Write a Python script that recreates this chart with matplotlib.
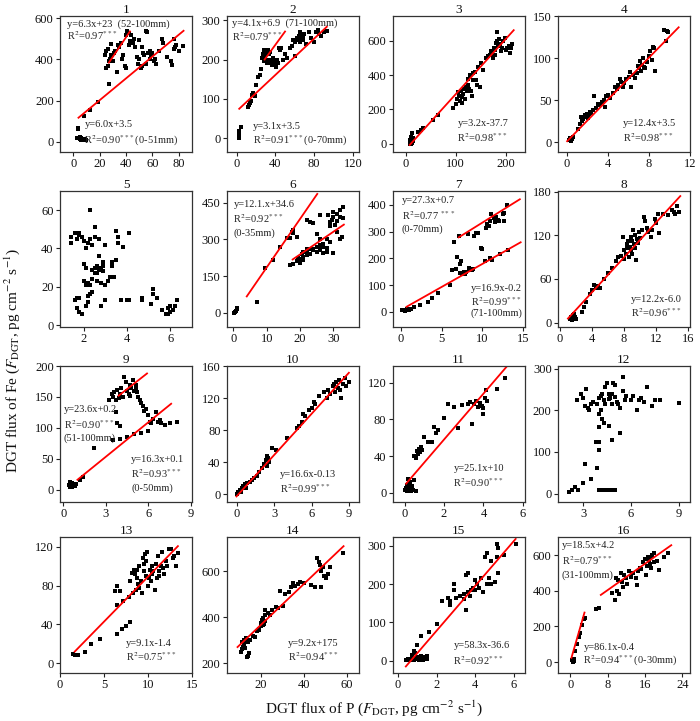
import matplotlib
matplotlib.use("Agg")
import matplotlib.pyplot as plt

plt.rcParams['font.family'] = ['Liberation Serif', 'DejaVu Serif']
plt.rcParams['mathtext.fontset'] = 'stix'

# ---------------- data ----------------
p1 = [(3,20),(4,60),(4,65),(5,15),(6,10),(7,12),(5,25),(8,10),(6,20),(9,12),(10,8),(8,125),(13,155),(19,195),
      (24,420),(25,440),(25,360),(26,370),(26,450),(27,390),(27,280),(28,400),(28,390),(29,475),(29,420),(30,390),
      (31,430),(32,440),(33,340),(34,470),(35,460),(36,480),(37,400),(38,420),(39,370),(40,360),(40,520),(41,540),
      (42,470),(42,530),(43,490),(44,520),(45,480),(46,500),(47,460),(48,410),(49,380),(50,495),(50,400),(51,360),
      (52,370),(52,460),(53,430),(54,420),(55,540),(55,380),(56,535),(57,430),(58,440),(58,400),(59,420),(60,430),
      (61,390),(62,400),(63,380),(65,440),(67,500),(68,480),(74,390),(75,375),(76,500),(76,450),(77,460),(78,470),
      (80,440),(83,465),(71,410)]
p2 = [(3,0),(3,10),(3,18),(5,28),(12,80),(13,85),(14,90),(15,95),(16,110),(17,115),(19,108),(20,135),(22,155),
      (24,160),(25,175),(26,205),(27,215),(28,225),(28,195),(29,210),(30,200),(30,218),(31,190),(32,225),(33,215),
      (34,200),(35,220),(36,190),(37,185),(38,205),(39,195),(40,188),(41,180),(42,200),(43,190),(44,230),(45,225),
      (46,230),(48,200),(50,215),(52,205),(55,230),(57,235),(58,250),(60,245),(60,210),(62,255),(63,250),(64,260),
      (65,270),(65,245),(66,255),(67,262),(68,250),(69,258),(70,265),(72,240),(75,270),(77,255),(80,245),(82,270),
      (84,275),(85,265),(87,260),(90,270),(93,272)]
p3 = [(8,0),(9,20),(10,40),(11,10),(12,60),(13,5),(14,30),(15,15),(10,-5),(25,70),(30,80),(35,90),(55,140),(65,170),
      (95,210),(100,230),(102,260),(105,300),(107,280),(108,250),(110,310),(112,270),(113,240),(115,290),(117,320),
      (118,260),(120,330),(122,310),(124,340),(125,380),(126,320),(128,400),(130,310),(132,280),(134,370),(135,410),
      (138,420),(140,370),(142,340),(145,450),(148,330),(150,470),(155,430),(160,500),(165,510),(168,520),(170,540),
      (172,530),(174,500),(176,560),(178,550),(180,590),(182,600),(183,650),(185,570),(186,610),(188,580),(190,540),
      (192,560),(195,600),(198,620),(200,550),(203,560),(206,570),(210,560),(212,580),(208,530),(175,510),(178,520)]
p4 = [(0.2,3),(0.3,5),(0.4,2),(0.5,4),(0.6,6),(0.4,1),(1.1,15),(1.3,22),(1.4,30),(1.5,25),(1.6,28),(1.7,32),(1.8,30),
      (1.9,34),(2.0,29),(2.1,33),(2.2,36),(2.3,35),(2.5,38),(2.6,55),(2.8,40),(3.0,45),(3.2,44),(3.4,48),(3.6,50),
      (3.7,42),(3.8,55),(4.0,56),(4.2,53),(4.5,58),(4.7,65),(4.9,63),(5.0,68),(5.2,75),(5.3,72),(5.5,66),(5.6,70),
      (5.8,75),(6.0,78),(6.1,84),(6.2,65),(6.4,80),(6.6,76),(6.8,82),(7.0,88),(7.1,97),(7.2,85),(7.3,92),(7.5,90),
      (7.6,88),(7.8,95),(8.0,102),(8.1,108),(8.3,98),(8.4,113),(8.5,112),(8.6,85),(9.5,133),(9.7,120),(9.8,132),
      (9.9,131),(7.4,100),(6.9,91)]
p5 = [(1.4,43),(1.4,46),(1.6,48),(1.7,45),(1.8,47),(1.9,46),(1.8,48),(2.0,44),(2.0,32),(2.1,30),(2.1,40),(2.2,43),
      (2.2,22),(2.3,21),(2.3,45),(2.3,60),(2.4,42),(2.4,24),(2.5,46),(2.5,51),(2.6,31),(2.6,27),(2.7,45),(2.7,36),
      (2.8,30),(2.8,22),(2.9,33),(2.9,28),(3.0,42),(3.0,21),(3.1,23),(3.2,25),(3.3,31),(3.3,33),(3.4,25),(3.5,34),
      (3.5,49),(3.6,46),(3.6,43),(3.8,41),(4.1,48),(1.6,13),(1.7,14),(1.8,14),(1.7,9),(1.8,7),(1.9,6),(2.1,10),
      (2.2,12),(2.3,16),(2.2,15),(2.4,17),(2.8,10),(2.5,27),(2.6,23),(2.4,29),(2.0,23),(2.1,21),(3.0,13),(3.7,13),
      (4.0,13),(4.1,13),(4.7,14),(4.7,13),(5.2,19),(5.2,16),(5.1,11),(5.4,14),(5.6,8),(5.8,6),(5.9,9),(6.0,10),
      (6.0,7),(6.1,8),(6.2,10),(6.3,13),(5.9,6),(2.7,29),(2.9,31),(2.5,30)]
p6 = [(0.5,5),(0.8,10),(1,15),(1.2,20),(0.3,0),(7,45),(9.5,185),(12,215),(14,270),(16,305),(17,305),(17.5,330),
      (18,340),(18,325),(19,310),(17,195),(18,200),(19,210),(19.5,225),(20,220),(20,205),(20.5,240),(21,230),(21,215),
      (22,250),(22,235),(22,380),(23,240),(23,370),(24,255),(24,260),(24,365),(25,250),(25,270),(26,255),(26,265),
      (26,300),(27,270),(27,245),(28,265),(28,250),(28,300),(28.5,400),(29,370),(29,355),(29,290),(29.5,380),(30,390),
      (30,245),(30,410),(30.5,360),(31,405),(31,330),(31,375),(32,420),(32,390),(32.5,310),(33,430),(33,385),(32,300),
      (27,280),(26,400),(25,320),(23,260),(22,260),(21,250),(26,275)]
p7 = [(0.2,5),(0.4,8),(0.6,6),(0.8,10),(0.5,3),(1.0,8),(1.2,10),(1.6,18),(2.3,25),(3.3,38),(3.8,50),(4.6,70),(6.0,100),
      (6.3,155),(6.5,260),(6.8,160),(6.9,205),(7.1,285),(7.3,180),(7.4,190),(7.3,145),(7.5,140),(7.7,148),(8.0,150),
      (8.2,290),(8.5,160),(8.7,155),(8.9,160),(9.2,295),(9.0,285),(9.5,295),(9.8,240),(10.0,235),(10.3,190),(10.5,315),
      (10.6,330),(10.8,320),(10.9,200),(11.0,340),(11.1,365),(11.2,195),(11.4,350),(11.5,335),(11.7,355),(11.9,345),
      (12.0,340),(12.2,215),(12.5,365),(12.6,370),(12.7,340),(13.0,400),(13.1,232),(8.4,165),(7.9,143)]
p8 = [(1.3,5),(1.4,8),(1.5,4),(1.6,10),(1.7,6),(1.8,12),(1.9,8),(2.0,5),(1.5,7),(2.7,15),(3.0,22),(3.2,28),(3.7,40),
      (4.0,45),(4.2,52),(4.5,48),(4.8,50),(5.0,48),(5.5,60),(6.0,68),(6.5,75),(7.0,85),(7.3,90),(7.6,92),(7.8,118),
      (8.0,100),(8.0,88),(8.2,95),(8.4,108),(8.5,112),(8.6,90),(8.7,104),(8.8,118),(8.9,100),(9.0,112),(9.0,94),
      (9.2,108),(9.3,120),(9.4,102),(9.5,86),(9.6,115),(9.7,110),(9.8,124),(10.0,117),(10.2,128),(10.5,145),(10.6,140),
      (10.8,130),(11.0,125),(11.3,118),(11.5,128),(11.8,142),(12.0,137),(12.2,150),(12.4,123),(12.8,150),(13.5,148),
      (14.0,155),(14.2,152),(14.4,150),(14.6,160),(14.8,152),(9.1,128),(8.3,103)]
p9 = [(0.4,8),(0.5,5),(0.5,12),(0.6,10),(0.7,7),(0.8,6),(0.6,4),(0.9,9),(1.4,20),(1.2,15),(2.2,67),(3.2,145),(3.4,155),
      (3.5,150),(3.6,158),(3.7,145),(3.8,162),(3.9,148),(4.0,155),(4.1,165),(4.2,150),(4.3,182),(4.4,175),(4.5,160),
      (4.6,155),(4.7,170),(4.8,165),(4.9,178),(5.0,160),(5.1,170),(5.2,158),(5.3,150),(5.4,145),(5.5,140),(5.6,135),
      (5.7,128),(5.8,130),(6.0,120),(6.1,110),(6.3,115),(6.5,125),(6.7,110),(6.8,112),(6.9,108),(7.2,105),(7.5,108),
      (8.0,110),(3.5,80),(4.0,82),(4.5,85),(5.0,90),(5.5,92),(4.0,103),(3.8,108),(3.7,125),(6.0,95),(4.7,152),
      (5.1,163),(6.2,108)]
p10 = [(0,0),(0.1,3),(0.2,5),(0.3,2),(0.4,8),(0.5,10),(0.6,12),(0.7,8),(0.8,14),(1.0,15),(1.2,18),(1.4,20),(1.6,22),
       (1.8,28),(2.0,32),(2.2,38),(2.3,42),(2.4,48),(2.5,45),(2.6,40),(2.8,58),(3.1,55),(4.0,70),(4.8,82),(5.0,85),
       (5.2,90),(5.3,100),(5.5,97),(5.8,105),(6.0,108),(6.3,113),(6.6,122),(7.0,128),(7.3,130),(7.5,125),(7.7,135),
       (7.8,138),(8.0,140),(8.1,132),(8.2,143),(8.3,130),(8.4,120),(8.5,138),(8.7,145),(8.8,135),(9.0,140),(7.2,120),
       (7.9,127),(6.2,115),(2.4,35)]
p11 = [(0.0,3),(0.05,5),(0.1,2),(0.1,8),(0.15,4),(0.2,6),(0.2,10),(0.25,3),(0.3,5),(0.3,12),(0.35,2),(0.4,7),(0.45,3),
       (0.5,14),(0.6,2),(0.2,15),(0.5,40),(0.6,38),(0.65,45),(0.7,42),(0.75,48),(0.8,44),(0.85,50),(0.9,47),(1.0,61),
       (1.4,55),(1.5,72),(1.6,65),(1.7,68),(2.0,81),(2.2,97),(2.5,93),(2.7,71),(2.9,96),(3.2,97),(3.3,99),(3.4,75),
       (3.5,97),(3.6,100),(3.7,93),(3.9,95),(4.0,86),(4.0,92),(4.1,103),(4.15,112),(4.2,100),(4.7,113),(5.1,125),
       (3.8,98),(1.2,55)]
p12 = [(2.1,5),(2.3,10),(2.5,15),(2.7,8),(2.6,225),(2.9,240),(3.0,230),(3.1,210),(3.2,250),(3.3,205),(3.4,200),
       (3.5,215),(3.6,220),(3.0,25),(3.1,70),(3.5,35),(3.9,215),(4.0,230),(4.0,190),(4.1,200),(4.2,240),(4.3,225),
       (4.4,255),(4.5,265),(4.6,240),(4.7,230),(4.8,215),(4.9,265),(5.0,260),(5.1,220),(5.2,215),(5.3,205),(5.5,280),
       (5.5,245),(5.6,225),(5.7,235),(6.0,225),(6.1,235),(6.4,200),(6.5,225),(6.6,230),(6.8,220),(7.0,255),(7.3,210),
       (7.5,225),(7.8,225),(9.0,218),(4.0,160),(4.2,180),(4.3,170),(4.6,162),(3.8,125),(4.0,125),(4.0,105),(3.9,62),
       (4.8,128),(5.3,145),(4.0,8),(4.2,10),(4.4,10),(4.6,10),(4.8,10),(5.0,10),(4.1,235),(4.4,215),(4.6,228),
       (5.0,232),(4.8,240)]
p13 = [(1.5,10),(1.7,8),(2.0,8),(2.8,12),(3.5,20),(4.5,25),(6.5,30),(7.0,35),(7.5,38),(8.0,42),(6.2,74),(6.5,80),
       (6.8,74),(7.2,64),(6.5,60),(7.8,68),(8.0,85),(8.2,93),(8.3,72),(8.4,96),(8.5,92),(8.6,75),(8.7,88),(8.8,96),
       (9.0,100),(9.0,78),(9.2,85),(9.3,72),(9.4,108),(9.5,102),(9.6,95),(9.7,112),(9.8,105),(9.8,90),(10.0,80),
       (10.1,88),(10.2,96),(10.3,85),(10.4,92),(10.5,100),(10.6,95),(10.8,75),(10.9,102),(11.0,88),(11.1,110),
       (11.2,95),(11.3,90),(11.5,100),(11.6,115),(11.7,98),(11.8,92),(12.0,105),(12.2,100),(12.4,118),(12.6,118),
       (12.8,108),(13.0,110),(13.2,100),(13.4,114),(9.9,115),(8.9,82)]
p14 = [(10.5,250),(11,260),(11,290),(11.5,270),(12,280),(12,300),(12.5,265),(13,295),(13,310),(13.5,225),(14,230),
       (14,290),(14.5,245),(15,300),(16,320),(17,315),(18,340),(19,345),(20,360),(20,375),(20.5,390),(21,380),(21,395),
       (21.5,370),(22,430),(22,410),(23,420),(24,410),(25,430),(27,445),(28,440),(29,515),(30,450),(31,500),(33,510),
       (34,530),(35,550),(36,535),(37,545),(38,555),(40,550),(43,540),(45,530),(46,660),(47,640),(47.5,630),(48,600),
       (48,530),(49,620),(49.5,580),(50,570),(51,590),(52,620),(58,680),(22,385),(21,365),(20,370),(19,350)]
p15 = [(0.4,3),(0.5,5),(0.6,2),(0.7,8),(0.7,15),(0.8,25),(0.8,3),(0.9,6),(0.9,20),(1.0,10),(1.0,4),(1.1,8),(1.1,3),
       (1.2,5),(1.2,12),(1.3,7),(1.3,3),(1.4,10),(1.5,5),(1.5,12),(1.0,40),(1.2,65),(1.6,75),(2.0,95),(2.3,155),
       (2.6,165),(2.7,145),(2.7,155),(2.9,185),(2.9,200),(3.0,165),(3.2,170),(3.4,160),(3.4,175),(3.5,132),(3.5,225),
       (3.6,228),(3.6,180),(3.7,170),(3.9,190),(4.0,210),(4.0,185),(4.1,200),(4.3,215),(4.4,180),(4.5,270),(4.6,280),
       (4.6,200),(4.7,215),(4.8,200),(4.8,260),(5.0,205),(5.1,270),(5.1,305),(5.2,295),(5.2,230),(5.5,275),(6.1,305),
       (4.2,190),(3.8,185)]
p16 = [(0.3,10),(0.5,20),(0.6,0),(0.8,5),(1.0,60),(0.7,15),(1.5,100),(1.8,140),(2.0,165),(2.5,210),(2.8,240),
       (3.2,245),(5.5,300),(6.2,305),(9,385),(9.5,350),(9.8,470),(10,400),(10.2,460),(10.5,380),(10.8,500),(11,450),
       (11.2,420),(11.5,490),(12,470),(12.2,440),(12.5,510),(13,480),(13.5,500),(14,470),(14.2,430),(14.5,510),
       (15,530),(15.2,520),(15.5,560),(16,580),(16.2,490),(16.5,540),(16.8,570),(17,550),(17.2,590),(17.5,600),
       (17.8,560),(18,610),(18.5,570),(19,515),(20,590),(21,610),(16.6,590),(17.3,530)]
points = [p1, p2, p3, p4, p5, p6, p7, p8, p9, p10, p11, p12, p13, p14, p15, p16]

# fitted lines as drawn (x1, y1, x2, y2)
fit_lines = [
    [(4, 117, 83.6, 539), (27, 384, 43, 536)],
    [(2.8, 75, 93, 283), (29, 200, 50, 271)],
    [(8, -8, 216, 663)],
    [(0, 1, 10.9, 136.7)],
    [],
    [(4, 67.5, 25.2, 485), (17.8, 218, 33.2, 360)],
    [(0.7, 18.6, 14.7, 260), (7.1, 278.5, 14.6, 421)],
    [(1.0, 5.6, 15.0, 174)],
    [(1.0, 16, 7.6, 139), (3.9, 152, 5.9, 188)],
    [(-0.05, -3, 9.0, 151.6)],
    [(0.08, 10, 5.2, 138)],
    [],
    [(1.67, 12, 13.4, 120.6)],
    [(9.0, 270, 58.4, 710)],
    [(0.4, -15, 6.09, 318)],
    [(0.2, 24, 3.0, 278), (6.5, 377, 21.6, 656)],
]

xlims = [(-10, 90), (-10, 126), (-26, 238), (-0.9, 12), (0.9, 7.0), (-2, 37.7), (-1, 15.2), (-0.25, 16.2),
         (-0.23, 9.07), (-0.83, 9.8), (-0.6, 6.09), (1.43, 9.68), (0, 15), (4, 65.5), (-0.28, 6.56), (-2.7, 25.6)]
ylims = [(-50, 610), (-35, 310), (-50, 745), (-12, 149), (-1, 70), (-57, 497), (-57, 452), (-6, 181),
         (-20, 200), (-10, 160), (-10, 138), (-20, 306), (-10, 130), (157, 750), (-32, 323), (-61, 702)]
xticks = [[0, 20, 40, 60, 80], [0, 40, 80, 120], [0, 100, 200], [0, 4, 8, 12], [2, 4, 6], [0, 10, 20, 30],
          [0, 5, 10, 15], [0, 4, 8, 12, 16], [0, 3, 6, 9], [0, 3, 6, 9], [0, 2, 4, 6], [3, 6, 9], [0, 5, 10, 15],
          [20, 40, 60], [0, 2, 4, 6], [0, 8, 16, 24]]
yticks = [[0, 200, 400, 600], [0, 100, 200, 300], [0, 200, 400, 600], [0, 50, 100, 150], [0, 20, 40, 60],
          [0, 150, 300, 450], [0, 100, 200, 300, 400], [0, 60, 120, 180], [0, 50, 100, 150, 200],
          [0, 40, 80, 120, 160], [0, 40, 80, 120], [0, 100, 200, 300], [0, 40, 80, 120], [200, 400, 600],
          [0, 100, 200, 300], [0, 200, 400, 600]]

# annotation texts (x, y in axes fraction, text)
S = r'$^{***}$'
notes = [
    [(0.05, 0.94, 'y=6.3x+23  (52-100mm)'), (0.05, 0.855, 'R$^2$=0.97' + S),
     (0.19, 0.20, 'y=6.0x+3.5'), (0.18, 0.08, 'R$^2$=0.90' + S + '(0-51mm)')],
    [(0.04, 0.945, 'y=4.1x+6.9  (71-100mm)'), (0.04, 0.85, 'R$^2$=0.79' + S),
     (0.20, 0.19, 'y=3.1x+3.5'), (0.20, 0.08, 'R$^2$=0.91' + S + '(0-70mm)')],
    [(0.49, 0.21, 'y=3.2x-37.7'), (0.49, 0.11, 'R$^2$=0.98' + S)],
    [(0.49, 0.21, 'y=12.4x+3.5'), (0.49, 0.11, 'R$^2$=0.98' + S)],
    [],
    [(0.05, 0.90, 'y=12.1.x+34.6'), (0.05, 0.80, 'R$^2$=0.92' + S), (0.05, 0.69, '(0-35mm)')],
    [(0.07, 0.93, 'y=27.3x+0.7'), (0.07, 0.82, 'R$^2$=0.77 ' + S), (0.07, 0.72, '(0-70mm)'),
     (0.59, 0.28, 'y=16.9x-0.2'), (0.59, 0.19, 'R$^2$=0.99' + S), (0.59, 0.10, '(71-100mm)')],
    [(0.55, 0.20, 'y=12.2x-6.0'), (0.55, 0.105, 'R$^2$=0.96' + S)],
    [(0.03, 0.68, 'y=23.6x+0.2'), (0.03, 0.57, 'R$^2$=0.90' + S), (0.03, 0.47, '(51-100mm)'),
     (0.54, 0.31, 'y=16.3x+0.1'), (0.54, 0.21, 'R$^2$=0.93' + S), (0.54, 0.105, '(0-50mm)')],
    [(0.40, 0.20, 'y=16.6x-0.13'), (0.40, 0.10, 'R$^2$=0.99' + S)],
    [(0.46, 0.25, 'y=25.1x+10'), (0.46, 0.14, 'R$^2$=0.90' + S)],
    [],
    [(0.50, 0.22, 'y=9.1x-1.4'), (0.50, 0.12, 'R$^2$=0.75' + S)],
    [(0.46, 0.22, 'y=9.2x+175'), (0.46, 0.12, 'R$^2$=0.94' + S)],
    [(0.46, 0.20, 'y=58.3x-36.6'), (0.46, 0.09, 'R$^2$=0.92' + S)],
    [(0.03, 0.94, 'y=18.5x+4.2'), (0.03, 0.83, 'R$^2$=0.79' + S), (0.03, 0.72, '(31-100mm)'),
     (0.20, 0.19, 'y=86.1x-0.4'), (0.19, 0.09, 'R$^2$=0.94' + S + '(0-30mm)')],
]
titles = [str(i) for i in range(1, 17)]

# ---------------- figure ----------------
fig = plt.figure(figsize=(7.0, 7.21), dpi=100)
lefts = [0.0857, 0.324, 0.561, 0.797]
bottoms = [0.789, 0.5465, 0.3037, 0.0666]
w, h = 0.1886, 0.1886

for i in range(16):
    r, c = divmod(i, 4)
    ax = fig.add_axes([lefts[c], bottoms[r], w, h])
    xs = [p[0] for p in points[i]]
    ys = [p[1] for p in points[i]]
    ax.plot(xs, ys, 's', color='black', markersize=2.3, markeredgewidth=0)
    for (x1, y1, x2, y2) in fit_lines[i]:
        ax.plot([x1, x2], [y1, y2], color='#ff0000', lw=1.3)
    ax.set_xlim(*xlims[i])
    ax.set_ylim(*ylims[i])
    ax.set_xticks(xticks[i])
    ax.set_yticks(yticks[i])
    ax.tick_params(direction='out', length=3, width=0.8, labelsize=9, pad=1.5,
                   top=False, right=False, colors='#222222', labelcolor='#111111')
    for sp in ax.spines.values():
        sp.set_linewidth(0.9)
        sp.set_color('#333333')
    ax.set_title(titles[i], fontsize=9.5, pad=2, color='#111111')
    for (tx, ty, t) in notes[i]:
        ax.text(tx, ty, t, transform=ax.transAxes, fontsize=7.5, va='center', ha='left', color='#222222')

fig.text(0.535, 0.018, r'DGT flux of P ($F_{\rm DGT}$, pg cm$^{-2}$ s$^{-1}$)', ha='center', va='center',
         fontsize=11, color='#111111')
fig.text(0.017, 0.50, r'DGT flux of Fe ($F_{\rm DGT}$, pg cm$^{-2}$ s$^{-1}$)', ha='center', va='center',
         rotation=90, fontsize=11, color='#111111')

fig.savefig('out.png', dpi=100)
